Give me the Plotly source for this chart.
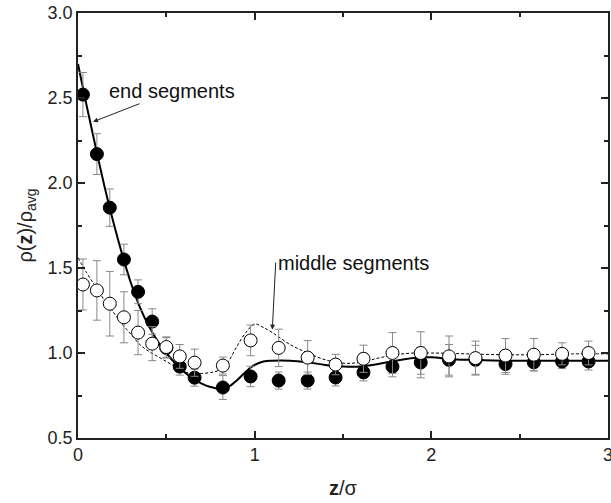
import plotly.graph_objects as go

# ---- measured data ----
z_pts = [0.028, 0.107, 0.18, 0.26, 0.34, 0.42, 0.50, 0.576, 0.66, 0.82, 0.977,
         1.136, 1.30, 1.458, 1.616, 1.78, 1.94, 2.10, 2.25, 2.42, 2.58, 2.74, 2.89]

end_vals = [2.52, 2.17, 1.855, 1.55, 1.36, 1.185, 1.03, 0.92, 0.855, 0.797, 0.862,
            0.838, 0.838, 0.856, 0.886, 0.92, 0.944, 0.96, 0.96, 0.935, 0.945, 0.95, 0.95]
end_err = [0.13, 0.12, 0.11, 0.09, 0.07, 0.075, 0.06, 0.05, 0.05, 0.07, 0.06,
           0.05, 0.05, 0.05, 0.05, 0.06, 0.09, 0.09, 0.085, 0.06, 0.05, 0.04, 0.05]

mid_vals = [1.403, 1.368, 1.29, 1.21, 1.12, 1.055, 1.035, 0.98, 0.943, 0.926, 1.074,
            1.03, 0.973, 0.932, 0.966, 1.0, 1.0, 0.98, 0.97, 0.985, 0.99, 0.995, 1.0]
mid_err = [0.15, 0.175, 0.19, 0.15, 0.13, 0.10, 0.06, 0.07, 0.08, 0.05, 0.09,
           0.11, 0.10, 0.06, 0.08, 0.12, 0.125, 0.12, 0.10, 0.10, 0.095, 0.065, 0.07]

# theory curves
z_end_line = [0, 0.05, 0.1, 0.15, 0.2, 0.25, 0.3, 0.35, 0.4, 0.45, 0.5, 0.55, 0.6,
              0.65, 0.7, 0.75, 0.8, 0.85, 0.9, 0.95, 1.0, 1.05, 1.1, 1.2, 1.3, 1.4,
              1.5, 1.6, 1.7, 1.8, 1.9, 2.0, 2.1, 2.2, 2.4, 2.6, 2.8, 3.0]
end_line = [2.70, 2.45, 2.21, 1.98, 1.77, 1.58, 1.41, 1.27, 1.16, 1.07, 1.00, 0.94, 0.89,
            0.85, 0.82, 0.80, 0.79, 0.80, 0.84, 0.89, 0.93, 0.95, 0.955, 0.955, 0.945, 0.93,
            0.92, 0.92, 0.935, 0.955, 0.97, 0.975, 0.965, 0.96, 0.955, 0.955, 0.955, 0.955]

z_mid_line = [0, 0.05, 0.1, 0.15, 0.2, 0.25, 0.3, 0.35, 0.4, 0.45, 0.5, 0.55, 0.6,
              0.65, 0.7, 0.75, 0.8, 0.85, 0.9, 0.95, 1.0, 1.05, 1.1, 1.2, 1.3, 1.4,
              1.5, 1.6, 1.7, 1.8, 1.9, 2.0, 2.2, 2.4, 2.6, 2.8, 3.0]
mid_line = [1.56, 1.47, 1.39, 1.31, 1.24, 1.17, 1.11, 1.05, 1.01, 0.98, 0.95, 0.92, 0.89,
            0.88, 0.88, 0.885, 0.90, 0.95, 1.04, 1.12, 1.17, 1.15, 1.12, 1.05, 1.00, 0.96,
            0.94, 0.945, 0.97, 0.99, 1.0, 1.0, 0.995, 0.99, 0.99, 0.995, 0.995]

x_ticks = [0, 1, 2, 3]
y_ticks = [0.5, 1.0, 1.5, 2.0, 2.5, 3.0]

FONT = "Liberation Sans, Arial, sans-serif"

fig = go.Figure()

fig.add_trace(go.Scatter(
    x=z_end_line, y=end_line, mode="lines",
    line=dict(color="black", width=2), line_shape="spline", showlegend=False))
fig.add_trace(go.Scatter(
    x=z_mid_line, y=mid_line, mode="lines",
    line=dict(color="black", width=1, dash="3px,2px"), line_shape="spline", showlegend=False))

fig.add_trace(go.Scatter(
    x=z_pts, y=end_vals, mode="markers",
    marker=dict(symbol="circle", size=13, color="black", line=dict(color="black", width=1)),
    error_y=dict(type="data", array=end_err, visible=True, color="#888888", thickness=1, width=4),
    showlegend=False))
fig.add_trace(go.Scatter(
    x=z_pts, y=mid_vals, mode="markers",
    marker=dict(symbol="circle", size=13, color="white", line=dict(color="black", width=1)),
    error_y=dict(type="data", array=mid_err, visible=True, color="#888888", thickness=1, width=4),
    showlegend=False))

axis_common = dict(
    showline=True, linecolor="#222222", linewidth=1.5, mirror="ticks",
    ticks="inside", ticklen=7, tickwidth=1.5, tickcolor="#222222",
    showgrid=False, zeroline=False, automargin=False, ticklabeloverflow="allow",
    tickfont=dict(family=FONT, size=18, color="#222222"),
)

fig.update_xaxes(
    range=[0, 3], tickvals=x_ticks, ticktext=[str(v) for v in x_ticks],
    minor=dict(ticks="inside", ticklen=4, tickwidth=1.5, tickcolor="#222222", dtick=0.5, tick0=0),
    title=dict(text="<b>z</b>/σ", font=dict(family=FONT, size=20, color="#222222"), standoff=17),
    **axis_common)
fig.update_yaxes(
    range=[0.5, 3.0], tickvals=y_ticks, ticktext=[f"{v:.1f}" for v in y_ticks],
    minor=dict(ticks="inside", ticklen=4, tickwidth=1.5, tickcolor="#222222", dtick=0.25, tick0=0.5),
    title=dict(text="ρ(<b>z</b>)/ρ<sub>avg</sub>", font=dict(family=FONT, size=20, color="#222222"), standoff=10),
    **axis_common)

annot_font = dict(family=FONT, size=20, color="#111111")
# label + arrow: (ax, ay) is the label anchor, (x, y) the arrow tip
fig.add_annotation(x=0.085, y=2.36, ax=0.53, ay=2.54, xref="x", yref="y",
                   axref="x", ayref="y", text="end segments", showarrow=True,
                   font=annot_font, arrowhead=2, arrowsize=1, arrowwidth=1,
                   arrowcolor="#222222")
fig.add_annotation(x=1.10, y=1.138, ax=1.119, ay=1.532, xref="x", yref="y",
                   axref="x", ayref="y", xanchor="left", text="middle segments",
                   showarrow=True, font=annot_font, arrowhead=2, arrowsize=1,
                   arrowwidth=1, arrowcolor="#222222")

fig.update_layout(
    width=611, height=503,
    margin=dict(l=78, r=3, t=13, b=65),
    plot_bgcolor="white", paper_bgcolor="white",
    font=dict(family=FONT),
)

fig.write_html("out.html", config={"displayModeBar": False},
               post_script="document.body.style.margin='0';document.body.style.overflow='hidden';")
